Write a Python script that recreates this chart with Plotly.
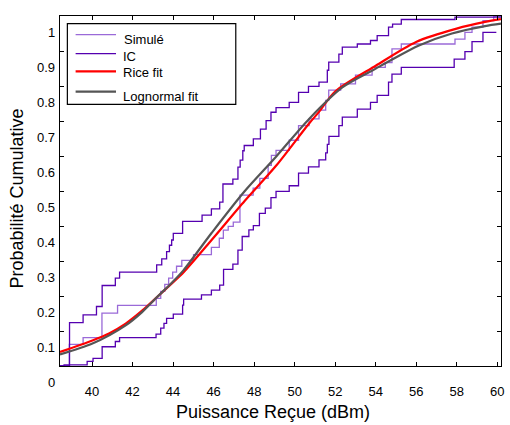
import plotly.graph_objects as go

# ---------------- data ----------------
# Empirical CDF "Simulé" (step x where a new level starts, level)
sim_x = [38.42, 38.88, 39.56, 40.49, 41.26, 43.17, 43.39, 43.59, 43.78, 43.98, 44.17,
         44.43, 45.01, 45.89, 46.28, 46.48, 46.72, 46.97, 47.30, 47.95, 48.28, 48.69,
         48.85, 49.08, 49.73, 50.19, 50.71, 51.20, 51.53, 51.68, 52.27, 53.00, 53.82,
         54.47, 54.80, 55.26, 57.91, 58.40, 58.75, 59.29, 59.82, 60.18]
sim_y = [0.0, 0.062, 0.081, 0.151, 0.173, 0.193, 0.213, 0.233, 0.251, 0.268, 0.285,
         0.302, 0.318, 0.339, 0.365, 0.388, 0.399, 0.411, 0.488, 0.508, 0.536, 0.573,
         0.602, 0.616, 0.645, 0.687, 0.706, 0.731, 0.759, 0.788, 0.806, 0.831, 0.853,
         0.867, 0.906, 0.920, 0.934, 0.953, 0.968, 0.987, 0.999, 0.999]

# Confidence interval, upper bound
icu_x = [38.42, 38.89, 39.56, 40.22, 40.50, 41.15, 41.36, 43.19, 43.44, 43.68, 43.82,
         43.93, 44.01, 44.47, 45.43, 45.89, 46.30, 46.46, 46.95, 47.20, 47.31, 47.44,
         47.51, 47.96, 48.31, 48.59, 48.83, 49.08, 49.73, 50.19, 50.68, 51.20, 51.61,
         51.68, 52.18, 52.35, 53.09, 53.74, 54.07, 54.63, 54.83, 55.26, 57.91, 60.18]
icu_y = [0.0, 0.124, 0.146, 0.170, 0.230, 0.251, 0.268, 0.289, 0.306, 0.327, 0.345,
         0.360, 0.379, 0.413, 0.431, 0.449, 0.468, 0.520, 0.534, 0.568, 0.588, 0.615,
         0.630, 0.649, 0.677, 0.701, 0.725, 0.738, 0.753, 0.782, 0.799, 0.811, 0.845,
         0.868, 0.891, 0.911, 0.920, 0.930, 0.944, 0.968, 0.977, 0.990, 0.997, 0.997]

# Confidence interval, lower bound
icl_x = [38.42, 38.62, 39.76, 40.05, 40.50, 41.15, 41.36, 43.16, 43.39, 43.55, 43.68,
         44.01, 44.47, 44.52, 45.40, 45.89, 46.30, 46.49, 46.95, 47.20, 47.41, 47.74,
         47.96, 48.26, 48.55, 48.83, 49.08, 49.73, 50.19, 50.68, 51.20, 51.53, 51.61,
         51.69, 52.18, 52.35, 53.09, 53.74, 54.07, 54.63, 54.80, 55.26, 57.87, 58.40,
         58.75, 59.29, 59.95]
icl_y = [0.0, 0.003, 0.013, 0.022, 0.055, 0.070, 0.081, 0.091, 0.108, 0.122, 0.136,
         0.148, 0.174, 0.191, 0.203, 0.217, 0.231, 0.276, 0.291, 0.331, 0.370, 0.389,
         0.401, 0.436, 0.451, 0.481, 0.499, 0.515, 0.551, 0.569, 0.589, 0.609, 0.633,
         0.656, 0.687, 0.711, 0.734, 0.753, 0.773, 0.811, 0.834, 0.853, 0.877, 0.898,
         0.927, 0.953, 0.953]

# Rice fit
rice_x = [38.42, 40.02, 40.84, 41.66, 42.47, 43.21, 43.94, 44.52, 45.90, 47.54, 49.08,
          50.71, 51.20, 52.01, 54.00, 55.99, 57.99, 59.39, 60.18]
rice_y = [0.040, 0.073, 0.093, 0.121, 0.158, 0.197, 0.236, 0.268, 0.360, 0.472, 0.572,
          0.693, 0.726, 0.785, 0.858, 0.926, 0.964, 0.983, 0.991]

# Lognormal fit
logn_x = [38.42, 40.02, 41.66, 42.47, 43.21, 43.94, 44.52, 45.90, 47.54, 49.08, 50.71,
          52.35, 53.98, 54.72, 56.13, 57.76, 59.39, 60.18]
logn_y = [0.033, 0.064, 0.116, 0.154, 0.197, 0.238, 0.274, 0.380, 0.500, 0.598, 0.706,
          0.796, 0.849, 0.873, 0.916, 0.950, 0.971, 0.978]

x_ticks = [40, 42, 44, 46, 48, 50, 52, 54, 56, 58, 60]
y_ticks = [0, 0.1, 0.2, 0.3, 0.4, 0.5, 0.6, 0.7, 0.8, 0.9, 1]
y_tick_labels = ["0", "0.1", "0.2", "0.3", "0.4", "0.5", "0.6", "0.7", "0.8", "0.9", "1"]

legend_names = ["Simulé", "IC", "Rice fit", "Lognormal fit"]

# ---------------- styling ----------------
FONT = "Arial, Liberation Sans, sans-serif"
C_SIM = "#9a6ad8"
C_IC = "#5500b0"
C_RICE = "#ff0000"
C_LOGN = "#555555"

fig = go.Figure()
fig.add_trace(go.Scatter(x=sim_x, y=sim_y, mode="lines", line=dict(color=C_SIM, width=1.3, shape="hv"),
                         name="Simulé", showlegend=False))
fig.add_trace(go.Scatter(x=icu_x, y=icu_y, mode="lines", line=dict(color=C_IC, width=1.3, shape="hv"),
                         name="IC", showlegend=False))
fig.add_trace(go.Scatter(x=icl_x, y=icl_y, mode="lines", line=dict(color=C_IC, width=1.3, shape="hv"),
                         name="IC", showlegend=False))
fig.add_trace(go.Scatter(x=rice_x, y=rice_y, mode="lines",
                         line=dict(color=C_RICE, width=2.2, shape="spline", smoothing=0.8),
                         name="Rice fit", showlegend=False))
fig.add_trace(go.Scatter(x=logn_x, y=logn_y, mode="lines",
                         line=dict(color=C_LOGN, width=2.2, shape="spline", smoothing=0.8),
                         name="Lognormal fit", showlegend=False))

fig.update_layout(
    width=510, height=425,
    margin=dict(l=60.3, r=5.7, t=15.7, b=59.3, pad=0),
    paper_bgcolor="white", plot_bgcolor="white",
    font=dict(family=FONT, size=13, color="black"),
    xaxis=dict(range=[38.42, 60.18], tickvals=x_ticks, ticktext=[str(v) for v in x_ticks],
               ticks="inside", ticklen=4, tickwidth=1, tickcolor="black",
               showline=True, linecolor="black", linewidth=1, mirror="ticks",
               showgrid=False, zeroline=False, ticklabelstandoff=13,
               tickfont=dict(family=FONT, size=13)),
    yaxis=dict(range=[0, 1], tickvals=y_ticks, showticklabels=False,
               ticks="inside", ticklen=4, tickwidth=1, tickcolor="black",
               showline=True, linecolor="black", linewidth=1, mirror="ticks",
               showgrid=False, zeroline=False),
)

annotations = []
# shifted y tick labels
for v, t in zip(y_ticks, y_tick_labels):
    annotations.append(dict(x=0, xref="paper", y=v, yref="y", text=t, showarrow=False,
                            xanchor="right", yanchor="middle", xshift=-3, yshift=-16,
                            font=dict(family=FONT, size=13, color="black")))
# axis titles
annotations.append(dict(x=0.4824, xref="paper", y=-0.1323, yref="paper", text="Puissance Reçue (dBm)",
                        showarrow=False, xanchor="center", yanchor="middle",
                        font=dict(family=FONT, size=18, color="black")))
annotations.append(dict(x=-0.0982, xref="paper", y=0.4777, yref="paper", text="Probabilité Cumulative",
                        showarrow=False, xanchor="center", yanchor="middle", textangle=-90,
                        font=dict(family=FONT, size=18, color="black")))

# legend box
shapes = [dict(type="rect", xref="paper", yref="paper", x0=0.0167, x1=0.3986, y0=0.7477, y1=0.9783,
               line=dict(color="black", width=1.2), fillcolor="white", layer="above")]
leg_line_y = [0.9469, 0.8926, 0.842, 0.784]
leg_text_y = [0.9334, 0.8829, 0.8383, 0.7686]
leg_text_x = [0.1412, 0.1383, 0.1383, 0.1383]
leg_colors = [C_SIM, C_IC, C_RICE, C_LOGN]
leg_widths = [1.2, 1.3, 2.2, 2.2]
for name, ly, ty, tx, c, w in zip(legend_names, leg_line_y, leg_text_y, leg_text_x, leg_colors, leg_widths):
    shapes.append(dict(type="line", xref="paper", yref="paper", x0=0.0354, x1=0.127, y0=ly, y1=ly,
                       line=dict(color=c, width=w), layer="above"))
    annotations.append(dict(x=tx, xref="paper", y=ty, yref="paper", text=name, showarrow=False,
                            xanchor="left", yanchor="middle", font=dict(family=FONT, size=13, color="black")))

fig.update_layout(shapes=shapes, annotations=annotations)
fig.write_html("out.html", config={"displayModeBar": False},
               post_script="document.body.style.margin='0';document.body.style.overflow='hidden';")
